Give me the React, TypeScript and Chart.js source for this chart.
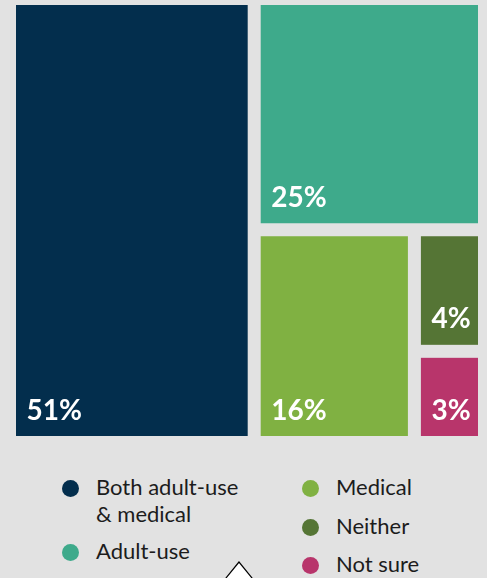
import React, { useEffect, useRef } from "react";
import { Chart, registerables } from "chart.js";

Chart.register(...registerables);

// ---- data ----
const categories = ["Both adult-use & medical", "Adult-use", "Medical", "Neither", "Not sure"];
const values = [51, 25, 16, 4, 3];
const colors = ["#032e4d", "#3eaa8b", "#80b142", "#557535", "#b8356b"];
const valueLabels = values.map((v) => `${v}%`);

// legend columns (indices into categories)
const legendColumns = [
  [0, 1],
  [2, 3, 4],
];
const legendLines: Record<number, string[]> = {
  0: ["Both adult-use", "& medical"],
};

const GAP = 13;

type Cell = { x0: number; y0: number; x1: number; y1: number; i: number };

// alternating slice-and-dice layout in data units (0..100 on both axes)
function sliceDice(vals: number[]): Cell[] {
  const cells: Cell[] = [];
  let x0 = 0, y0 = 0, x1 = 100, y1 = 100;
  let remaining = vals.reduce((a, b) => a + b, 0);
  vals.forEach((v, i) => {
    if (i === vals.length - 1) {
      cells.push({ x0, y0, x1, y1, i });
      return;
    }
    const f = v / remaining;
    if (i % 2 === 0) {
      const xm = x0 + (x1 - x0) * f;
      cells.push({ x0, y0, x1: xm, y1, i });
      x0 = xm;
    } else {
      const ym = y0 + (y1 - y0) * f;
      cells.push({ x0, y0, x1, y1: ym, i });
      y0 = ym;
    }
    remaining -= v;
  });
  return cells;
}

const treemapPlugin = {
  id: "treemapCells",
  afterDatasetsDraw(chart: any) {
    const { ctx } = chart;
    const xs = chart.scales.x;
    const ys = chart.scales.y;
    const cells = sliceDice(values);
    ctx.save();
    cells.forEach((c) => {
      const l = xs.getPixelForValue(c.x0) + GAP / 2;
      const r = xs.getPixelForValue(c.x1) - GAP / 2;
      const t = ys.getPixelForValue(c.y0) + GAP / 2;
      const b = ys.getPixelForValue(c.y1) - GAP / 2;
      ctx.fillStyle = colors[c.i];
      ctx.fillRect(l, t, r - l, b - t);
      ctx.fillStyle = "#ffffff";
      ctx.font = "bold 28px Lato";
      ctx.textAlign = "left";
      ctx.textBaseline = "alphabetic";
      ctx.fillText(valueLabels[c.i], l + 10.5, b - 16.5);
    });
    ctx.restore();
  },
};

function TreemapChart() {
  const ref = useRef<HTMLCanvasElement | null>(null);
  useEffect(() => {
    if (!ref.current) return;
    const chart = new Chart(ref.current, {
      type: "scatter",
      data: {
        datasets: [
          {
            label: "Share",
            data: sliceDice(values).map((c) => ({ x: (c.x0 + c.x1) / 2, y: (c.y0 + c.y1) / 2 })),
            pointRadius: 0,
            pointHoverRadius: 0,
          },
        ],
      },
      options: {
        responsive: false,
        animation: false,
        layout: { padding: { left: 9.5, right: 2.5, top: 8.5, bottom: 7.5 } },
        scales: {
          x: { type: "linear", min: 0, max: 100, display: false },
          y: { type: "linear", min: 0, max: 100, reverse: true, display: false },
        },
        plugins: {
          legend: { display: false },
          tooltip: { enabled: false },
        },
        events: [],
      },
      plugins: [treemapPlugin],
    });
    return () => chart.destroy();
  }, []);
  return (
    <canvas
      ref={ref}
      width={487}
      height={460}
      style={{ position: "absolute", left: 0, top: -10, width: 487, height: 460 }}
    />
  );
}

const itemTops: Record<number, number> = { 0: 474.3, 1: 538.3, 2: 474.3, 3: 513.3, 4: 551 };
const colLeft = [56, 296];

export default function App() {
  return (
    <div
      style={{
        position: "fixed",
        left: 0,
        top: 0,
        width: 487,
        height: 578,
        overflow: "hidden",
        background: "#e2e2e2",
        fontFamily: "Lato, sans-serif",
      }}
    >
      <TreemapChart />
      {legendColumns.map((col, ci) =>
        col.map((idx) => (
          <div
            key={idx}
            style={{
              position: "absolute",
              left: colLeft[ci],
              top: itemTops[idx],
              display: "flex",
              alignItems: "flex-start",
              fontSize: 22,
              lineHeight: "26.5px",
              color: "#1c1c1c",
              whiteSpace: "nowrap",
            }}
          >
            <span
              style={{
                display: "inline-block",
                width: 17,
                height: 17,
                borderRadius: "50%",
                background: colors[idx],
                marginTop: 5.5,
                marginLeft: 5.5,
                marginRight: 17.5,
                flex: "none",
              }}
            />
            <span>
              {(legendLines[idx] || [categories[idx]]).map((line, li) => (
                <div key={li}>{line}</div>
              ))}
            </span>
          </div>
        ))
      )}
      <svg
        width={487}
        height={578}
        style={{ position: "absolute", left: 0, top: 0, pointerEvents: "none" }}
      >
        <polygon
          points="239,562 222.75,582 255.25,582"
          fill="#ffffff"
          stroke="#000000"
          strokeWidth={1.2}
        />
      </svg>
    </div>
  );
}
